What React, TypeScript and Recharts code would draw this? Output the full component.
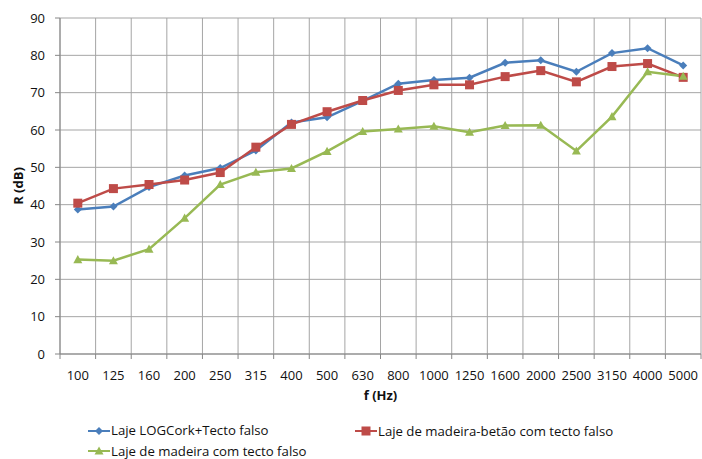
import React from "react";
import { LineChart, Line, XAxis, YAxis, CartesianGrid, Label } from "recharts";

const frequencies = ["100", "125", "160", "200", "250", "315", "400", "500", "630", "800", "1000", "1250", "1600", "2000", "2500", "3150", "4000", "5000"];
const logCork = [38.7, 39.5, 44.7, 47.8, 49.8, 54.5, 62.0, 63.4, 67.8, 72.4, 73.4, 74.0, 78.0, 78.7, 75.6, 80.6, 81.9, 77.3];
const madeiraBetao = [40.4, 44.3, 45.4, 46.6, 48.6, 55.4, 61.5, 64.9, 67.9, 70.6, 72.1, 72.1, 74.3, 75.9, 72.9, 77.0, 77.8, 74.1];
const madeira = [25.3, 25.0, 28.1, 36.4, 45.4, 48.7, 49.7, 54.3, 59.6, 60.3, 61.0, 59.4, 61.2, 61.3, 54.4, 63.6, 75.6, 74.4];
const yTicks = [0, 10, 20, 30, 40, 50, 60, 70, 80, 90];

const seriesNames = ["Laje LOGCork+Tecto falso", "Laje de madeira-betão com tecto falso", "Laje de madeira com tecto falso"];
const colors = ["#4A7EBB", "#BE4B48", "#98B954"];

const W = 702;
const H = 459;
const Y_AXIS_W = 60;
const MARGIN = { top: 18, right: 1, left: 0, bottom: 0 };
const X_AXIS_H = 105;
const STEP = (W - Y_AXIS_W - MARGIN.right) / frequencies.length;
const FONT = "'Open Sans', sans-serif";
const TEXT = "#111";

const data = frequencies.map((f, i) => ({
  x: i + 0.5,
  f,
  logCork: logCork[i],
  madeiraBetao: madeiraBetao[i],
  madeira: madeira[i],
}));

// category boundaries carry the grid and tick marks, labels sit in between
const xTicks = frequencies.map((_, i) => i).concat(frequencies.length);

function FreqTick(props: any) {
  const { x, y, payload } = props;
  const label = frequencies[payload.value];
  if (!label) return <g />;
  return (
    <text x={x + STEP / 2} y={y} dy="0.71em" textAnchor="middle" fontSize={13} fontFamily={FONT} fill={TEXT}>
      {label}
    </text>
  );
}

function Marker({ kind, cx, cy, color }: { kind: number; cx: number; cy: number; color: string }) {
  if (kind === 0) {
    const r = 4;
    return <polygon points={`${cx},${cy - r} ${cx + r},${cy} ${cx},${cy + r} ${cx - r},${cy}`} fill={color} />;
  }
  if (kind === 1) {
    const s = 4.5;
    return <rect x={cx - s} y={cy - s} width={s * 2} height={s * 2} fill={color} />;
  }
  const r = 4.5;
  return <polygon points={`${cx},${cy - r} ${cx + r},${cy + r * 0.8} ${cx - r},${cy + r * 0.8}`} fill={color} />;
}

const dotFor = (kind: number) => (p: any) => (
  <Marker key={`d-${kind}-${p.index}`} kind={kind} cx={p.cx} cy={p.cy} color={colors[kind]} />
);

function LegendItem({ kind }: { kind: number }) {
  return (
    <span style={{ display: "inline-flex", alignItems: "center" }}>
      <svg width={22} height={12} style={{ marginRight: 1 }}>
        <line x1={0} y1={6} x2={22} y2={6} stroke={colors[kind]} strokeWidth={2} />
        <Marker kind={kind} cx={11} cy={6} color={colors[kind]} />
      </svg>
      {seriesNames[kind]}
    </span>
  );
}

export default function App() {
  return (
    <div style={{ position: "absolute", left: 0, top: 0, width: W, height: H, background: "#fff", overflow: "hidden" }}>
      <LineChart width={W} height={H} data={data} margin={MARGIN}>
        <CartesianGrid stroke="#A5A5A5" strokeWidth={1} />
        <XAxis
          dataKey="x"
          type="number"
          domain={[0, frequencies.length]}
          ticks={xTicks}
          interval={0}
          height={X_AXIS_H}
          tickSize={5}
          tickMargin={12}
          tick={<FreqTick />}
          stroke="#868686"
        >
          <Label
            content={(p: any) => (
              <text
                x={p.viewBox.x + p.viewBox.width / 2}
                y={p.viewBox.y + 46}
                textAnchor="middle"
                fontSize={13}
                fontWeight="bold"
                fontFamily={FONT}
                fill={TEXT}
              >
                f (Hz)
              </text>
            )}
          />
        </XAxis>
        <YAxis
          type="number"
          domain={[0, 90]}
          ticks={yTicks}
          width={Y_AXIS_W}
          tickSize={5}
          tickMargin={10}
          stroke="#868686"
          tick={{ fontSize: 13, fontFamily: FONT, fill: TEXT }}
        >
          <Label
            content={(p: any) => {
              const cx = 18;
              const cy = p.viewBox.y + p.viewBox.height / 2;
              return (
                <text
                  x={cx}
                  y={cy}
                  transform={`rotate(-90 ${cx} ${cy})`}
                  textAnchor="middle"
                  dominantBaseline="central"
                  fontSize={13}
                  fontWeight="bold"
                  fontFamily={FONT}
                  fill={TEXT}
                >
                  R (dB)
                </text>
              );
            }}
          />
        </YAxis>
        <Line dataKey="logCork" stroke={colors[0]} strokeWidth={2.5} dot={dotFor(0)} isAnimationActive={false} />
        <Line dataKey="madeiraBetao" stroke={colors[1]} strokeWidth={2.5} dot={dotFor(1)} isAnimationActive={false} />
        <Line dataKey="madeira" stroke={colors[2]} strokeWidth={2.5} dot={dotFor(2)} isAnimationActive={false} />
      </LineChart>
      <div style={{ position: "absolute", left: 88, top: 423, fontFamily: FONT, fontSize: 13.2, color: TEXT, lineHeight: "15px" }}>
        <div style={{ display: "flex" }}>
          <div style={{ width: 267 }}>
            <LegendItem kind={0} />
          </div>
          <LegendItem kind={1} />
        </div>
        <div style={{ marginTop: 4 }}>
          <LegendItem kind={2} />
        </div>
      </div>
    </div>
  );
}
